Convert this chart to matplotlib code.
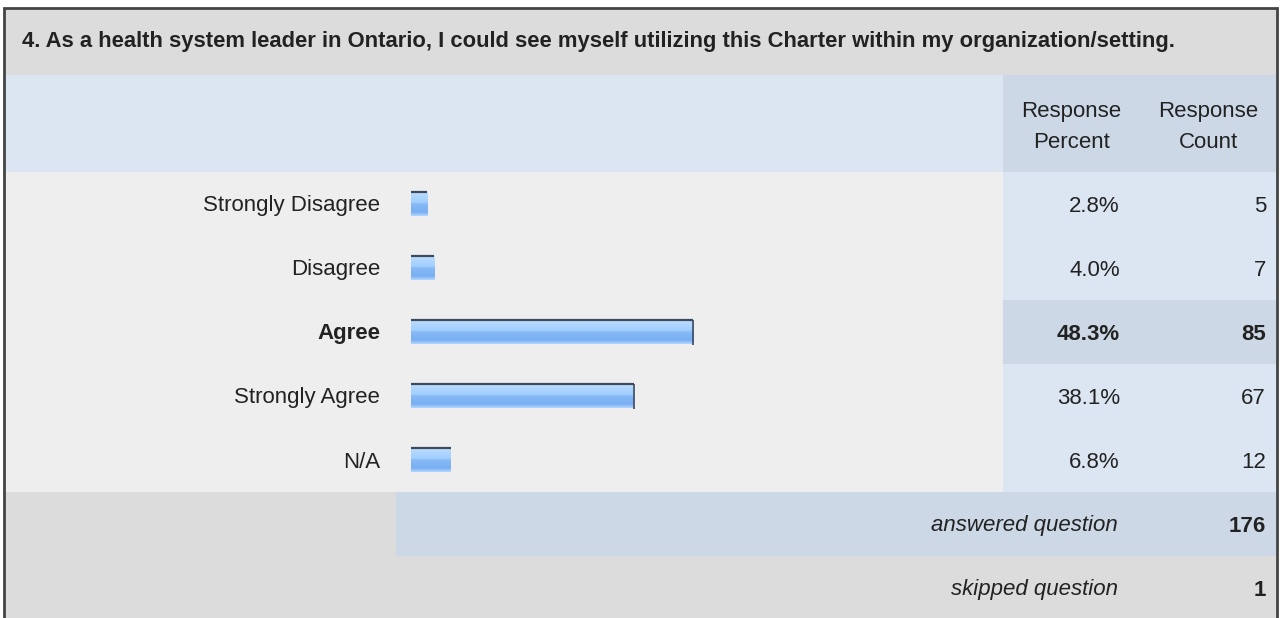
import numpy as np
import matplotlib
matplotlib.use('Agg')
import matplotlib.pyplot as plt
from matplotlib.patches import Rectangle
from matplotlib.colors import LinearSegmentedColormap

plt.rcParams['font.family'] = ['Liberation Sans', 'DejaVu Sans']

# Survey results
question = ('4. As a health system leader in Ontario, I could see myself '
            'utilizing this Charter within my organization/setting.')
answers = ['Strongly Disagree', 'Disagree', 'Agree', 'Strongly Agree', 'N/A']
percents = [2.8, 4.0, 48.3, 38.1, 6.8]
counts = [5, 7, 85, 67, 12]
answered = 176
skipped = 1
top_answer = 'Agree'

# Colours of the table
grey_band = '#dcdcdc'
light_blue = '#dce6f3'
dark_blue = '#ccd8e6'
row_grey = '#eeeeee'
text_col = '#222222'

W, H = 1280, 618
fig = plt.figure(figsize=(W / 100, H / 100), dpi=100)
fig.patch.set_facecolor('white')

# Background table in pixel units
tab = fig.add_axes([0, 0, 1, 1])
tab.set_xlim(0, W)
tab.set_ylim(H, 0)
tab.axis('off')

left, right = 4, 1277
col1, col2 = 1003, 1140
title_top, head_top, rows_top, row_h = 8, 75, 172, 64
n = len(answers)
rows_bot = rows_top + n * row_h


def box(x0, y0, x1, y1, c):
    tab.add_patch(Rectangle((x0, y0), x1 - x0, y1 - y0, facecolor=c,
                            edgecolor='none', zorder=0))


box(left, title_top, right, head_top, grey_band)
box(left, head_top, col1, rows_top, light_blue)
box(col1, head_top, right, rows_top, dark_blue)
box(left, rows_top, col1, rows_bot, row_grey)
for i, a in enumerate(answers):
    c = dark_blue if a == top_answer else light_blue
    box(col1, rows_top + i * row_h, right, rows_top + (i + 1) * row_h, c)
box(left, rows_bot, right, H + 2, grey_band)
box(396, rows_bot, right, rows_bot + row_h, dark_blue)

# outer frame
tab.plot([left, left, right, right], [H + 2, title_top, title_top, H + 2],
         color='#444444', lw=2, zorder=3, solid_joinstyle='miter')

fs = 16
dy = 2  # nudge text down a little
tab.text(22, 42, question, fontsize=15.8, fontweight='bold', color=text_col,
         ha='left', va='center')
for cx, word in [((col1 + col2) / 2, 'Percent'), ((col2 + right) / 2, 'Count')]:
    tab.text(cx, 111, 'Response', fontsize=fs, color=text_col,
             ha='center', va='center')
    tab.text(cx, 142, word, fontsize=fs, color=text_col,
             ha='center', va='center')

for i, (a, p, c) in enumerate(zip(answers, percents, counts)):
    y = rows_top + (i + 0.5) * row_h + dy
    w = 'bold' if a == top_answer else 'normal'
    tab.text(380, y, a, fontsize=fs, fontweight=w, color=text_col,
             ha='right', va='center')
    tab.text(1120, y, f'{p:.1f}%', fontsize=fs, fontweight=w,
             color=text_col, ha='right', va='center')
    tab.text(1266, y, str(c), fontsize=fs, fontweight=w, color=text_col,
             ha='right', va='center')

y_ans = rows_bot + row_h / 2 + dy
y_skip = rows_bot + row_h * 1.5 + dy
tab.text(1118, y_ans, 'answered question', fontsize=fs, style='italic',
         color=text_col, ha='right', va='center')
tab.text(1266, y_ans, str(answered), fontsize=fs, fontweight='bold',
         color=text_col, ha='right', va='center')
tab.text(1118, y_skip, 'skipped question', fontsize=fs, style='italic',
         color=text_col, ha='right', va='center')
tab.text(1266, y_skip, str(skipped), fontsize=fs, fontweight='bold',
         color=text_col, ha='right', va='center')

# Bar area: 0..100 percent
bx0, bw = 411, 584
ax = fig.add_axes([bx0 / W, 1 - rows_bot / H, bw / W, n * row_h / H])
ax.patch.set_alpha(0)
ax.axis('off')

grad = LinearSegmentedColormap.from_list('bar', [
    (0.0, '#d2e9ff'), (0.12, '#b6dafe'), (0.45, '#a2ceff'),
    (0.52, '#86b9f6'), (0.85, '#7aaff3'), (1.0, '#b2d6ff')])
shade = np.linspace(0, 1, 64).reshape(-1, 1)
bh = 25 / row_h
for i, p in enumerate(percents):
    ax.imshow(shade, cmap=grad, aspect='auto', interpolation='bilinear',
              extent=(0, p, i + bh / 2, i - bh / 2), zorder=2)
    ax.plot([0, p], [i - bh / 2, i - bh / 2], color='#3c4a5e', lw=1.6,
            zorder=3, solid_capstyle='butt')
    # end cap only shows on the longer bars
    if p > 10:
        ax.plot([p, p], [i - bh / 2, i + bh / 2], color='#3c4a5e', lw=1.2,
                zorder=3, solid_capstyle='butt')
ax.set_xlim(0, 100)
ax.set_ylim(n - 0.5, -0.5)

fig.savefig('out.png', dpi=100)
